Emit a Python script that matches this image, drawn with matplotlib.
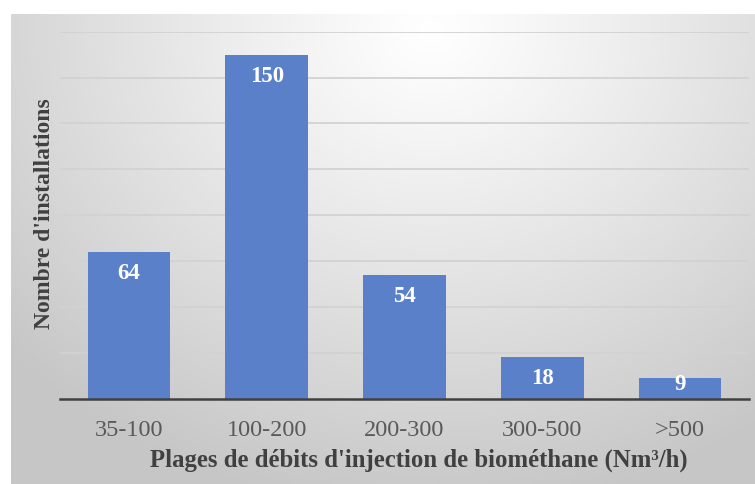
import numpy as np
import matplotlib
matplotlib.use("Agg")
import matplotlib.pyplot as plt

categories = ["35-100", "100-200", "200-300", "300-500", ">500"]
values = [64, 150, 54, 18, 9]
yticks = [0, 20, 40, 60, 80, 100, 120, 140, 160]

W, H = 755, 484
fig = plt.figure(figsize=(W / 100, H / 100), dpi=100)
fig.patch.set_facecolor("white")

# background gradient panel
bx0, by0 = 11, 14
bg = fig.add_axes([bx0 / W, 0, (W - bx0) / W, (H - by0) / H])
bg.set_axis_off()
ny, nx = 235, 372
yy, xx = np.mgrid[0:ny, 0:nx]
px = bx0 + xx * (W - bx0) / nx
py = by0 + yy * (H - by0) / ny
d = np.sqrt(((px - 430) / 1.0) ** 2 + ((py - 30) / 0.85) ** 2)
v = 1.0 - 0.22 * np.clip(d / 560, 0, 1) ** 1.1
img = np.dstack([v, v, v])
bg.imshow(img, aspect="auto", extent=[0, 1, 0, 1], origin="upper", interpolation="bilinear")
bg.set_xlim(0, 1)
bg.set_ylim(0, 1)

# main axes
x0, x1 = 60, 749
y_top, y_bot = 31.7, 398.7
ax = fig.add_axes([x0 / W, (H - y_bot) / H, (x1 - x0) / W, (y_bot - y_top) / H])
ax.patch.set_alpha(0)
xpos = np.arange(len(categories))
bars = ax.bar(xpos, values, width=0.6, color="#5a80ca", zorder=3)
ax.set_xlim(-0.5, len(categories) - 0.5)
ax.set_ylim(0, 160)
ax.set_yticks(yticks)
ax.set_yticklabels([])
ax.tick_params(axis="y", length=0)
ax.grid(axis="y", color="#d2d2d2", linewidth=1.3, zorder=0)
for s in ["top", "right", "left"]:
    ax.spines[s].set_visible(False)
ax.spines["bottom"].set_color("#404040")
ax.spines["bottom"].set_linewidth(1.8)
ax.spines["bottom"].set_zorder(4)
ax.set_xticks(xpos)
ax.set_xticklabels(categories, fontfamily="Liberation Serif", fontsize=17.5, color="#595959")
ax.tick_params(axis="x", length=0, pad=15)

px_per_unit = (y_bot - y_top) / 160
for xi, val in zip(xpos, values):
    off = min(21.5, val * px_per_unit - 14)
    ax.annotate(str(val), xy=(xi, val), xytext=(0, -off), textcoords="offset pixels",
                ha="center", va="center", color="white", fontsize=16.5, fontweight="bold",
                fontfamily="Liberation Serif", zorder=5)

fig.text(419 / W, 1 - 460 / H, "Plages de débits d'injection de biométhane (Nm³/h)",
         ha="center", va="center", fontsize=17.8, fontweight="bold",
         fontfamily="Liberation Serif", color="#404040")
fig.text(45 / W, 1 - 214 / H, "Nombre d'installations", rotation=90,
         ha="center", va="center", fontsize=17, fontweight="bold",
         fontfamily="Liberation Serif", color="#404040")

fig.savefig("out.png", dpi=100)
